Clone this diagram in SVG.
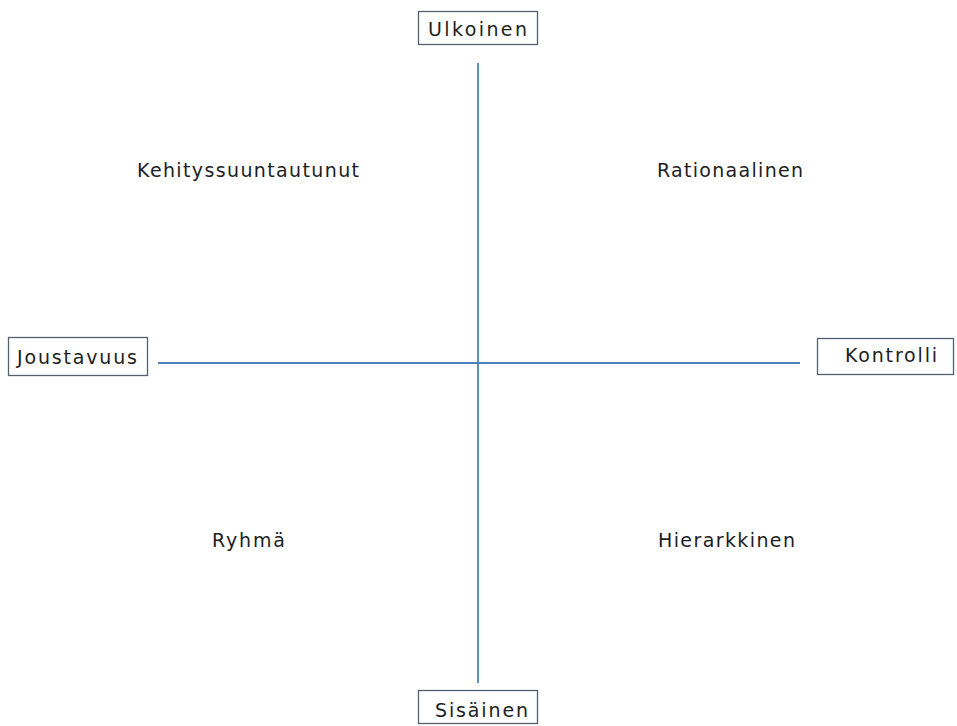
<svg xmlns="http://www.w3.org/2000/svg" width="957" height="726" viewBox="0 0 957 726">
<style>
.t{font-family:"DejaVu Sans","Verdana",sans-serif;font-size:19px;fill:#1e1e1e}
.box{fill:#fff;stroke:#55606e;stroke-width:1.3}
.ax{stroke:#4f81bd;stroke-width:1.8;fill:none}
</style>
<rect width="957" height="726" fill="#fff"/>
<g id="connectors">
<line class="ax" x1="478" y1="63" x2="478" y2="683"/>
<line class="ax" x1="158" y1="363" x2="800" y2="363"/>
</g>
<g id="ulkoinen"><rect class="box" x="418.5" y="11.5" width="119" height="33"/><text class="t" x="428" y="36" textLength="99" lengthAdjust="spacing">Ulkoinen</text></g>
<g id="joustavuus"><rect class="box" x="8.5" y="337.5" width="139" height="38"/><text class="t" x="17" y="364" textLength="120" lengthAdjust="spacing">Joustavuus</text></g>
<g id="kontrolli"><rect class="box" x="817.5" y="338.5" width="136" height="36"/><text class="t" x="845" y="362" textLength="92" lengthAdjust="spacing">Kontrolli</text></g>
<g id="sisainen"><rect class="box" x="418.5" y="690.5" width="119" height="33"/><text class="t" x="435" y="717" textLength="93" lengthAdjust="spacing">Sisäinen</text></g>
<g id="kehityssuuntautunut"><text class="t" x="137" y="177" textLength="222" lengthAdjust="spacing">Kehityssuuntautunut</text></g>
<g id="rationaalinen"><text class="t" x="657" y="177" textLength="146" lengthAdjust="spacing">Rationaalinen</text></g>
<g id="ryhma"><text class="t" x="212" y="547" textLength="73" lengthAdjust="spacing">Ryhmä</text></g>
<g id="hierarkkinen"><text class="t" x="658" y="547" textLength="137" lengthAdjust="spacing">Hierarkkinen</text></g>
</svg>
